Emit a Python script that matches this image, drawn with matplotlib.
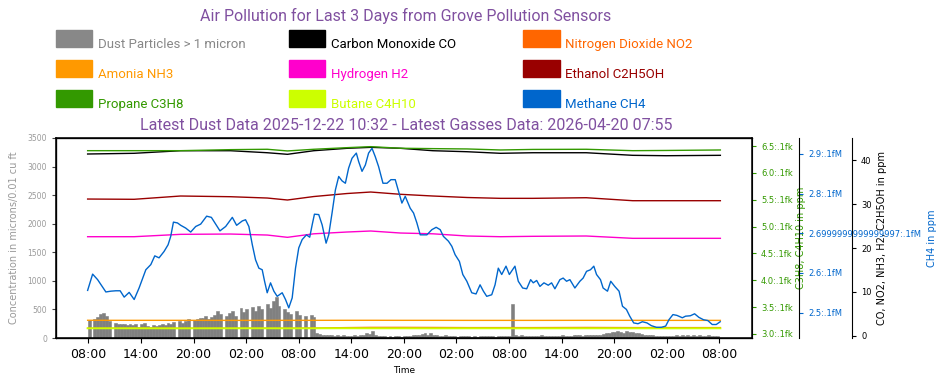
import matplotlib
matplotlib.use('Agg')
import matplotlib.pyplot as plt
import matplotlib.dates as mdates
import numpy as np
from datetime import datetime, timedelta
from matplotlib.patches import Rectangle
from matplotlib.ticker import FuncFormatter, FixedLocator, FixedFormatter


# ---- data ----
start_time = datetime(2026, 4, 17, 7, 55)

# dust particles, one bar per 20 minutes (3 per hour)
dust_bin_minutes = 20
dust_values = [
    320, 0, 340,   360, 420, 440,   380, 300, 0,     270, 250, 240,
    240, 230, 250, 220, 240, 200,   240, 260, 210,   190, 230, 210,
    220, 250, 230, 260, 240, 280,   0, 300, 270,     290, 330, 0,
    310, 340, 350, 350, 380, 330,   360, 400, 470,   420, 0, 380,
    430, 470, 390, 0, 520, 450,     500, 0, 540,     470, 560, 510,
    0, 600, 520,   640, 720, 560,   0, 500, 450,     420, 0, 480,
    400, 0, 380,   0, 410, 360,     90, 70, 60,      55, 50, 45,
    40, 50, 35,    45, 40, 30,      35, 45, 40,      60, 50, 80,
    70, 115, 60,   40, 35, 30,      25, 30, 20,      30, 35, 25,
    40, 30, 35,    50, 60, 45,      70, 80, 60,      90, 60, 50,
    40, 35, 45,    30, 40, 35,      25, 30, 35,      40, 30, 25,
    30, 25, 30,    35, 30, 40,      30, 25, 35,      30, 40, 30,
    40, 588, 45,   40, 50, 35,      30, 40, 35,      40, 30, 45,
    35, 40, 30,    30, 35, 40,      45, 40, 35,      40, 50, 45,
    50, 40, 45,    55, 60, 50,      60, 55, 70,      80, 90, 100,
    110, 120, 100, 90, 115, 105,    100, 90, 80,     70, 60, 55,
    50, 45, 40,    35, 30, 40,      30, 35, 40,      45, 40, 50,
    40, 45, 35,    50, 40, 45,      40, 35, 45,      30, 40, 35,
]

# slow gas series, hours since start
gas_hours = [0, 5.3, 10.6, 16.3, 20.5, 22.8, 25.8, 29.6, 32.3,
             35.7, 39.4, 43.3, 47.1, 50.8, 56.9, 62.2, 66.0, 72.2]
co_values = [41.44, 41.60, 42.19, 42.19, 41.73, 41.37, 42.19, 42.74, 42.96,
             42.74, 42.19, 41.96, 41.60, 41.73, 41.73, 41.14, 41.05, 41.14]
no2_values = [1.70, 1.70, 1.70, 1.70, 1.70, 1.70, 1.75, 1.85, 1.90,
              1.90, 1.88, 1.85, 1.85, 1.85, 1.88, 1.85, 1.85, 1.85]
nh3_values = [3.52, 3.51, 3.51, 3.50, 3.50, 3.51, 3.51, 3.52, 3.52,
              3.51, 3.51, 3.50, 3.50, 3.50, 3.51, 3.51, 3.50, 3.50]
h2_values = [22.58, 22.58, 23.12, 23.19, 22.96, 22.44, 23.24, 23.65, 23.88,
             23.42, 23.24, 22.74, 22.58, 22.67, 22.74, 22.21, 22.21, 22.21]
ethanol_values = [31.17, 31.11, 31.86, 31.70, 31.40, 30.95, 31.74, 32.43, 32.77,
                  32.25, 31.86, 31.52, 31.33, 31.33, 31.47, 30.79, 30.79, 30.79]
propane_values = [6413, 6413, 6413, 6432, 6439, 6408, 6439, 6469, 6488,
                  6458, 6451, 6445, 6426, 6436, 6439, 6413, 6417, 6426]
butane_values = [3106, 3106, 3105, 3106, 3106, 3105, 3106, 3107, 3106,
                 3106, 3105, 3106, 3106, 3105, 3106, 3106, 3105, 3106]

# methane, hours since start and values in millions of ppm
ch4_hours = [
    0, 0.57, 1.14, 1.71, 2.08, 2.65, 3.22, 3.71, 4.17, 4.74, 5.31, 5.87,
    6.64, 7.21, 7.66, 8.15, 8.72, 9.18, 9.48, 9.79, 10.25, 10.62, 11.19, 11.76,
    12.33, 12.90, 13.58, 14.12, 14.61, 15.10, 15.75, 16.51, 17.00, 17.65, 18.02, 18.40,
    18.79, 19.16, 19.54, 19.92, 20.19, 20.49, 20.87, 21.25, 21.63, 22.20, 22.58, 22.95,
    23.34, 23.72, 24.09, 24.48, 24.97, 25.34, 25.62, 25.88, 26.37, 26.76, 27.21, 27.51,
    27.89, 28.27, 28.65, 29.03, 29.41, 29.78, 30.17, 30.66, 30.92, 31.31, 31.69, 32.06,
    32.45, 32.82, 33.20, 33.70, 34.16, 34.61, 35.10, 35.48, 35.86, 36.24, 36.81, 37.19,
    37.57, 37.95, 38.32, 38.71, 39.28, 39.77, 40.23, 40.60, 41.17, 41.56, 41.93, 42.42,
    42.81, 43.27, 43.83, 44.32, 44.78, 45.16, 45.54, 46.11, 46.49, 46.86, 47.25, 47.74,
    48.12, 48.76, 49.14, 49.64, 50.10, 50.55, 50.85, 51.24, 51.61, 52.07, 52.56, 52.94,
    53.32, 53.89, 54.26, 54.65, 55.03, 55.60, 56.17, 56.54, 56.93, 57.38, 57.76, 58.07,
    58.52, 58.82, 59.32, 59.69, 60.15, 60.64, 61.03, 61.48, 61.86, 62.31, 62.80, 63.30,
    63.83, 64.33, 64.90, 65.47, 65.96, 66.33, 66.79, 67.24, 67.86, 68.23, 68.77, 69.26,
    69.75, 70.28, 70.77, 71.27, 71.73, 72.18,
]
ch4_millions = [
    2.556, 2.597, 2.583, 2.564, 2.552, 2.554, 2.555, 2.555, 2.539, 2.551, 2.533, 2.562,
    2.608, 2.621, 2.643, 2.638, 2.654, 2.671, 2.692, 2.728, 2.726, 2.720, 2.713, 2.703,
    2.717, 2.723, 2.743, 2.740, 2.723, 2.706, 2.717, 2.740, 2.720, 2.731, 2.734, 2.717,
    2.671, 2.633, 2.612, 2.608, 2.579, 2.550, 2.575, 2.554, 2.541, 2.550, 2.533, 2.512,
    2.537, 2.612, 2.663, 2.684, 2.696, 2.690, 2.721, 2.748, 2.747, 2.721, 2.675, 2.696,
    2.751, 2.809, 2.843, 2.832, 2.826, 2.864, 2.889, 2.902, 2.881, 2.856, 2.872, 2.902,
    2.914, 2.893, 2.868, 2.826, 2.826, 2.835, 2.835, 2.805, 2.776, 2.793, 2.763, 2.751,
    2.726, 2.696, 2.696, 2.696, 2.709, 2.715, 2.709, 2.692, 2.680, 2.667, 2.646, 2.629,
    2.596, 2.579, 2.550, 2.547, 2.570, 2.554, 2.541, 2.545, 2.570, 2.612, 2.596, 2.617,
    2.596, 2.617, 2.579, 2.562, 2.560, 2.583, 2.575, 2.581, 2.566, 2.575, 2.569, 2.575,
    2.560, 2.583, 2.587, 2.579, 2.583, 2.562, 2.579, 2.587, 2.604, 2.608, 2.617, 2.596,
    2.583, 2.562, 2.554, 2.579, 2.566, 2.554, 2.516, 2.508, 2.491, 2.474, 2.472, 2.477,
    2.474, 2.467, 2.463, 2.463, 2.466, 2.482, 2.495, 2.493, 2.487, 2.491, 2.492, 2.497,
    2.488, 2.482, 2.480, 2.470, 2.470, 2.477,
]

ch4_tick_values = [2.5e6, 2.6e6, 2.7e6, 2.8e6, 2.9e6]
ch4_tick_labels = ['2.5:.1fM', '2.6:.1fM', '2.6999999999999997:.1fM', '2.8:.1fM', '2.9:.1fM']

legend_labels = ['Dust Particles > 1 micron', 'Carbon Monoxide CO', 'Nitrogen Dioxide NO2',
                 'Amonia NH3', 'Hydrogen H2', 'Ethanol C2H5OH',
                 'Propane C3H8', 'Butane C4H10', 'Methane CH4']
legend_colors = ['#888888', '#000000', '#FF6600',
                 '#FF9900', '#FF00CC', '#990000',
                 '#339900', '#CCFF00', '#0066CC']

title_text = 'Air Pollution for Last 3 Days from Grove Pollution Sensors'
subtitle_text = 'Latest Dust Data 2025-12-22 10:32 - Latest Gasses Data: 2026-04-20 07:55'


def to_times(hours):
    return [start_time + timedelta(hours=h) for h in hours]


purple = '#8050A0'
W, H = 942, 385

fig = plt.figure(figsize=(W / 100, H / 100), dpi=100)
ax = fig.add_axes([56 / W, 47 / H, 696 / W, 200 / H])

# dust bars (thin edge in the same grey closes the seams between bars)
bar_times = [start_time + timedelta(minutes=dust_bin_minutes * i) for i in range(len(dust_values))]
ax.bar(mdates.date2num(bar_times), dust_values, width=dust_bin_minutes / 1440.0,
       align='edge', color='#808080', edgecolor='#808080', linewidth=0.4)
ax.set_ylim(0, 3500)
ax.set_ylabel('Concentration in microns/0.01 cu ft', fontsize=7, color='#999999', labelpad=6)
ax.tick_params(axis='y', labelsize=5.5, labelcolor='#999999', color='#444444', length=3)
ax.xaxis.set_major_locator(mdates.HourLocator(byhour=[2, 8, 14, 20]))
ax.xaxis.set_major_formatter(mdates.DateFormatter('%H:%M'))
ax.tick_params(axis='x', labelsize=9, length=3.5)
ax.set_xlabel('Time', fontsize=6.5, labelpad=4)
for s in ax.spines.values():
    s.set_linewidth(1.1)

gas_times = mdates.date2num(to_times(gas_hours))

# CO, NO2, NH3, H2, ethanol axis (outermost)
ax_black = ax.twinx()
ax_black.spines['right'].set_position(('axes', 1.1437))
ax_black.plot(gas_times, no2_values, color='#FF6600', lw=1)
ax_black.plot(gas_times, nh3_values, color='#FF9900', lw=1)
ax_black.plot(gas_times, h2_values, color='#FF00CC', lw=1)
ax_black.plot(gas_times, ethanol_values, color='#990000', lw=1)
ax_black.plot(gas_times, co_values, color='#000000', lw=1)
ax_black.set_ylim(-0.52, 45.09)
ax_black.set_ylabel('CO, NO2, NH3, H2, C2H5OH in ppm', fontsize=7)
ax_black.tick_params(axis='y', labelsize=6, length=3)

# propane / butane axis
ax_green = ax.twinx()
ax_green.plot(gas_times, propane_values, color='#339900', lw=1)
ax_green.plot(gas_times, butane_values, color='#CCFF00', lw=1.4)
ax_green.set_ylim(2925, 6649)
ax_green.yaxis.set_major_formatter(FuncFormatter(lambda x, pos: f'{x / 1000}:.1fk'))
ax_green.set_ylabel('C3H8, C4H10 in ppm', fontsize=7, color='#339900', labelpad=2)
ax_green.tick_params(axis='y', labelsize=6, colors='#339900', length=3)

# methane axis
ax_blue = ax.twinx()
ax_blue.spines['right'].set_position(('axes', 1.0675))
ax_blue.plot(mdates.date2num(to_times(ch4_hours)), np.array(ch4_millions) * 1e6,
             color='#0066CC', lw=1)
ax_blue.set_ylim(2.436e6, 2.940e6)
ax_blue.yaxis.set_major_locator(FixedLocator(ch4_tick_values))
ax_blue.yaxis.set_major_formatter(FixedFormatter(ch4_tick_labels))
ax_blue.yaxis.get_offset_text().set_visible(False)
ax_blue.set_ylabel('CH4 in ppm', fontsize=7, color='#0066CC')
ax_blue.tick_params(axis='y', labelsize=6, colors='#0066CC', length=3)

# titles
fig.text(406 / W, 1 - 21 / H, title_text, ha='center', va='baseline',
         fontsize=11.5, color=purple, family='Roboto')
fig.text(406 / W, 1 - 130 / H, subtitle_text, ha='center', va='baseline',
         fontsize=11.5, color=purple, family='Roboto')

# legend, drawn by hand: 3 columns x 3 rows of colored boxes
col_x = [55.5, 288.6, 523]
row_y = [30, 60, 90]
for i, (lab, col) in enumerate(zip(legend_labels, legend_colors)):
    cx = col_x[i % 3]
    ry = row_y[i // 3]
    fig.patches.append(Rectangle((cx / W, 1 - (ry + 17) / H), 36.5 / W, 17 / H,
                                 transform=fig.transFigure, color=col, figure=fig))
    fig.text((cx + 42) / W, 1 - (ry + 18) / H, lab, ha='left', va='baseline',
             fontsize=9.5, color=col, family='Roboto')

fig.savefig('out.png', dpi=100)
